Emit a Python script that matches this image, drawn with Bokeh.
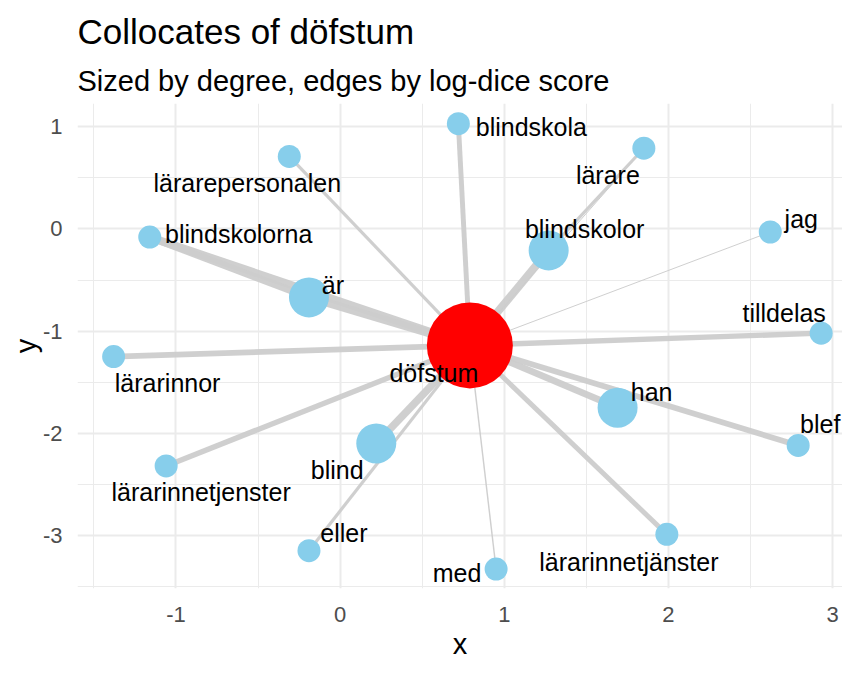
from bokeh.plotting import figure
from bokeh.models import (ColumnDataSource, FixedTicker, Title, Range1d,
                          LabelSet, CustomJSTickFormatter)
from bokeh.core.properties import value
from bokeh.embed import file_html
from bokeh.resources import INLINE

# ---- data ----
nodes = ["döfstum", "blindskola", "lärarepersonalen", "blindskolorna", "är",
         "lärarinnor", "lärarinnetjenster", "blind", "eller", "med",
         "lärarinnetjänster", "han", "blef", "tilldelas", "jag",
         "blindskolor", "lärare"]
node_x = [0.79, 0.72, -0.31, -1.16, -0.19, -1.38, -1.06, 0.22, -0.19, 0.95,
          1.99, 1.69, 2.79, 2.93, 2.62, 1.27, 1.85]
node_y = [-1.14, 1.03, 0.71, -0.08, -0.67, -1.25, -2.32, -2.10, -3.15, -3.33,
          -2.99, -1.75, -2.12, -1.02, -0.03, -0.21, 0.79]
degree = [16, 1, 1, 2, 3, 1, 1, 3, 1, 1, 1, 3, 1, 1, 1, 3, 1]

edge_from = ["döfstum"] * 16 + ["blindskolorna", "blindskolor"]
edge_to = ["blindskolorna", "är", "blindskolor", "blind", "han", "blef",
           "tilldelas", "lärarinnor", "lärarinnetjenster", "lärarinnetjänster",
           "blindskola", "lärarepersonalen", "eller", "jag", "med", "lärare",
           "är", "lärare"]
log_dice = [11.0, 11.0, 11.0, 10.5, 9.5, 8.5, 8.0, 8.5, 8.0, 7.5,
            7.5, 5.5, 5.5, 3.0, 3.5, 3.0, 10.0, 5.5]

x_ticks = [-1, 0, 1, 2, 3]
y_ticks = [-3, -2, -1, 0, 1]

title_text = "Collocates of döfstum"
subtitle_text = "Sized by degree, edges by log-dice score"

# ---- styling ----
FONT = "Liberation Sans"
X0, X1 = -1.60, 3.06
Y0, Y1 = -3.52, 1.228
# label offsets in screen pixels (dx right, dy down) of the text baseline centre
label_dx = [-36, 73, -42, 89, 24, 54, 35, -39, 35, -39, -38, 34, 22, -37, 31, 36, -36]
label_dy = [37, 12, 36, 6, -3, 35, 35, 36, -9, 13, 37, -7, -12, -11, -4, -12, 36]

def node_size(d):
    if d >= 10:
        return 86
    if d >= 3:
        return 40
    return 23

def edge_width(ld):
    return 1 + (ld - 3.0) * 7.0 / 8.0

idx = {n: i for i, n in enumerate(nodes)}
x0 = [node_x[idx[a]] for a in edge_from]
y0 = [node_y[idx[a]] for a in edge_from]
x1 = [node_x[idx[b]] for b in edge_to]
y1 = [node_y[idx[b]] for b in edge_to]
ew = [edge_width(v) for v in log_dice]

sizes = [node_size(d) for d in degree]
colors = ["#FF0000" if d >= 10 else "#87CEEB" for d in degree]

p = figure(width=842, height=662, output_backend="svg", toolbar_location=None,
           x_range=Range1d(X0, X1), y_range=Range1d(Y0, Y1),
           min_border_left=77, min_border_right=0, min_border_top=103,
           min_border_bottom=72)
p.outline_line_color = None
p.background_fill_color = "white"
p.border_fill_color = "white"

sub = Title(text=subtitle_text, text_font=FONT, text_font_size="29px",
            text_font_style="normal", text_color="black", standoff=13)
p.add_layout(sub, "above")
ttl = Title(text=title_text, text_font=FONT, text_font_size="35px",
            text_font_style="normal", text_color="black", standoff=12)
p.add_layout(ttl, "above")

# grid
p.xaxis.ticker = FixedTicker(ticks=x_ticks, minor_ticks=[t + 0.5 for t in [-2] + x_ticks])
p.yaxis.ticker = FixedTicker(ticks=y_ticks, minor_ticks=[t - 0.5 for t in y_ticks] + [1.5])
for g in (p.xgrid[0], p.ygrid[0]):
    g.grid_line_color = "#ebebeb"
    g.grid_line_width = 2
    g.minor_grid_line_color = "#ebebeb"
    g.minor_grid_line_width = 1

fmt = CustomJSTickFormatter(code="return String(tick);")
for ax in (p.xaxis[0], p.yaxis[0]):
    ax.formatter = fmt
    ax.axis_line_color = None
    ax.major_tick_line_color = None
    ax.minor_tick_line_color = None
    ax.major_tick_out = 0
    ax.major_tick_in = 0
    ax.minor_tick_out = 0
    ax.minor_tick_in = 0
    ax.major_label_text_font = FONT
    ax.major_label_text_font_size = "22px"
    ax.major_label_text_color = "#4d4d4d"
    ax.axis_label_text_font = FONT
    ax.axis_label_text_font_size = "29px"
    ax.axis_label_text_font_style = "normal"
    ax.axis_label_text_color = "black"
p.xaxis.axis_label = "x"
p.yaxis.axis_label = "y"
p.xaxis.major_label_standoff = 18
p.yaxis.major_label_standoff = 15
p.xaxis.axis_label_standoff = 3
p.yaxis.axis_label_standoff = -2

# edges
esrc = ColumnDataSource(dict(x0=x0, y0=y0, x1=x1, y1=y1, w=ew))
p.segment("x0", "y0", "x1", "y1", source=esrc, line_color="#cccccc",
          line_width="w", line_alpha=0.95)

# nodes
nsrc = ColumnDataSource(dict(x=node_x, y=node_y, s=sizes, c=colors, name=nodes,
                             dx=label_dx, dy=[-d for d in label_dy]))
p.scatter("x", "y", source=nsrc, size="s", fill_color="c", line_color=None)

# labels
labels = LabelSet(x="x", y="y", text="name", source=nsrc, x_offset="dx",
                  y_offset="dy", text_font=value(FONT), text_font_size="25px",
                  text_color="black", text_align="center",
                  text_baseline="alphabetic")
p.add_layout(labels)

open("out.html", "w").write(file_html(p, INLINE))
